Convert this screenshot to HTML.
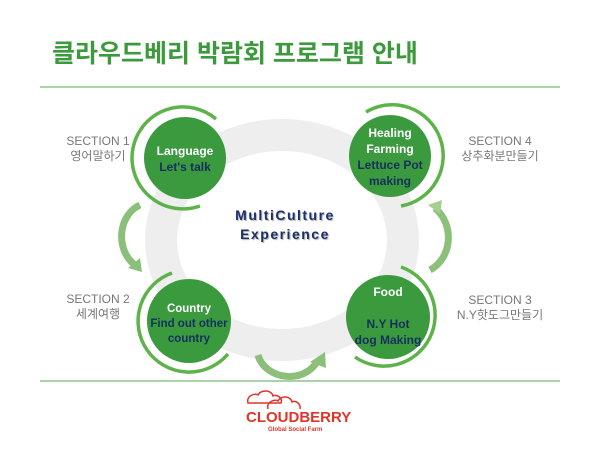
<!DOCTYPE html>
<html><head><meta charset="utf-8"><style>
body{margin:0;width:600px;height:450px;background:#fff;position:relative;overflow:hidden;font-family:"Liberation Sans","Noto Sans CJK KR",sans-serif}
.t{position:absolute;white-space:nowrap}
</style></head><body>
<div class="t" style="left:52px;top:34px;font-size:25px;font-weight:bold;color:#3c9a3c;letter-spacing:0px">클라우드베리 박람회 프로그램 안내</div>
<svg width="600" height="450" style="position:absolute;left:0;top:0">
<line x1="40" y1="87" x2="560" y2="87" stroke="#8cc68a" stroke-width="1.5"/>
<line x1="40" y1="381" x2="560" y2="381" stroke="#8cc68a" stroke-width="1.5"/>
<ellipse cx="282" cy="240" rx="121" ry="105" fill="none" stroke="#eeeeee" stroke-width="32"/>
<!-- arrows -->
<path d="M140 205 C118 215,115 250,135 265" fill="none" stroke="#8cc07a" stroke-width="7"/>
<polygon points="128,268 142,272 140,258" fill="#8cc07a"/>
<path d="M430 270 C452 258,455 225,435 208" fill="none" stroke="#8cc07a" stroke-width="7"/>
<polygon points="428,205 442,200 440,214" fill="#a6d090"/>
<path d="M258 355 C265 380,305 385,318 360" fill="none" stroke="#8cc07a" stroke-width="7"/>
<polygon points="310,362 325,352 326,368" fill="#8cc07a"/>
<!-- circles -->
<g fill="#3b9a3e"><circle cx="185" cy="158" r="41"/><circle cx="390" cy="156" r="41"/><circle cx="189" cy="321" r="42"/><circle cx="388" cy="317" r="42"/></g>
<g fill="none" stroke="#5db34a" stroke-width="3.5">
<path d="M216 119 A51 51 0 1 0 200 206"/>
<path d="M366 112 A51 51 0 1 1 401 206"/>
<path d="M172 273 A51 51 0 1 0 228 354"/>
<path d="M401 267 A51 51 0 1 1 355 357"/>
</g>
</svg>
<div class="t" style="left:60px;top:134px;width:76px;text-align:center;font-size:12px;color:#777;line-height:15px">SECTION 1<br>영어말하기</div>
<div class="t" style="left:455px;top:134px;width:90px;text-align:center;font-size:12px;color:#777;line-height:15px">SECTION 4<br>상추화분만들기</div>
<div class="t" style="left:60px;top:292px;width:76px;text-align:center;font-size:12px;color:#777;line-height:15px">SECTION 2<br>세계여행</div>
<div class="t" style="left:452px;top:293px;width:96px;text-align:center;font-size:12px;color:#777;line-height:15px">SECTION 3<br>N.Y핫도그만들기</div>
<div class="t" style="left:145px;top:143px;width:80px;text-align:center;font-size:12px;font-weight:bold;line-height:16px"><span style="color:#fff">Language</span><br><span style="color:#14305f">Let's talk</span></div>
<div class="t" style="left:345px;top:125px;width:90px;text-align:center;font-size:12px;font-weight:bold;line-height:16px"><span style="color:#fff">Healing<br>Farming</span><br><span style="color:#14305f">Lettuce Pot<br>making</span></div>
<div class="t" style="left:144px;top:302px;width:90px;text-align:center;font-size:11.5px;font-weight:bold;line-height:15px"><span style="color:#fff">Country</span><br><span style="color:#14305f">Find out other<br>country</span></div>
<div class="t" style="left:343px;top:284px;width:90px;text-align:center;font-size:12px;font-weight:bold;line-height:16px"><span style="color:#fff">Food</span><br><br><span style="color:#14305f">N.Y Hot<br>dog Making</span></div>
<div class="t" style="left:210px;top:206px;width:150px;text-align:center;font-size:14px;font-weight:bold;color:#1c2f6e;letter-spacing:1.5px;line-height:19px;text-shadow:1px 1px 1px #aaa">MultiCulture<br>Experience</div>
<svg width="80" height="25" style="position:absolute;left:246px;top:389px"><path d="M2 14 C0 6,10 4,12 6 C15 0,26 1,27 7 C31 5,37 9,35 14 Z M22 20 C20 12,30 10,32 12 C35 6,45 7,46 13 C50 11,55 15,54 20" fill="none" stroke="#e0342a" stroke-width="1.5"/></svg>
<div class="t" style="left:246px;top:409px;font-size:15px;font-weight:bold;color:#e0342a;letter-spacing:0px">CLOUDBERRY</div>
<div class="t" style="left:268px;top:427px;font-size:6px;font-weight:bold;color:#e0342a">Global Social Farm</div>
</body></html>
